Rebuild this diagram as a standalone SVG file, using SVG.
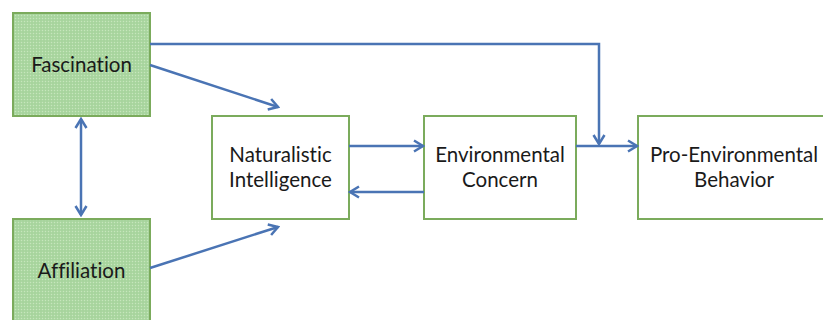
<svg xmlns="http://www.w3.org/2000/svg" width="823" height="320" viewBox="0 0 823 320">
  <style>
    .box { fill: #ffffff; stroke: #7bab5c; stroke-width: 2; }
    .shaded { fill: url(#dots); stroke: #7bab5c; stroke-width: 2; }
    .label { font-family: Lato, "Open Sans", "Liberation Sans", sans-serif; font-size: 20.5px; fill: #1a1a1a; text-anchor: middle; font-variant-ligatures: none; }
    .link { fill: none; stroke: #4a74b4; stroke-width: 2.5; }
  </style>
  <defs>
    <!-- fine stipple used in the shaded boxes -->
    <pattern id="dots" width="3" height="3" patternUnits="userSpaceOnUse">
      <rect width="3" height="3" fill="#acd7a2"/>
      <rect x="0" y="0" width="1" height="1" fill="#c6e6bc"/>
      <rect x="1.5" y="1.5" width="1" height="1" fill="#97cb8e"/>
    </pattern>
    <marker id="chev" viewBox="0 0 14 14" refX="12" refY="7" markerWidth="14" markerHeight="14" markerUnits="userSpaceOnUse" orient="auto-start-reverse">
      <path d="M3,1.5 L12,7 L3,12.5" fill="none" stroke="#4a74b4" stroke-width="2.5" stroke-linejoin="miter"/>
    </marker>
  </defs>

  <rect width="823" height="320" fill="#ffffff"/>

  <g id="fascination">
    <rect class="shaded" x="13" y="13" width="137" height="103"/>
    <text class="label" x="81.5" y="72">Fascination</text>
  </g>

  <g id="affiliation">
    <rect class="shaded" x="13" y="219" width="137" height="104"/>
    <text class="label" x="81.5" y="278">Affiliation</text>
  </g>

  <g id="naturalistic-intelligence">
    <rect class="box" x="212" y="116" width="137" height="103"/>
    <text class="label" x="280.5" y="162">Naturalistic</text>
    <text class="label" x="280.5" y="187">Intelligence</text>
  </g>

  <g id="environmental-concern">
    <rect class="box" x="424" y="116" width="152" height="103"/>
    <text class="label" x="500" y="162">Environmental</text>
    <text class="label" x="500" y="187">Concern</text>
  </g>

  <g id="pro-environmental-behavior">
    <rect class="box" x="638" y="116" width="192" height="103"/>
    <text class="label" x="734" y="162">Pro-Environmental</text>
    <text class="label" x="734" y="187">Behavior</text>
  </g>

  <g id="connectors">
    <path class="link" d="M150,44 H599 V144" marker-end="url(#chev)"/>
    <path class="link" d="M150,65 L278,107" marker-end="url(#chev)"/>
    <path class="link" d="M150,268 L278,227" marker-end="url(#chev)"/>
    <path class="link" d="M81,119 V215" marker-start="url(#chev)" marker-end="url(#chev)"/>
    <path class="link" d="M349,146 H423" marker-end="url(#chev)"/>
    <path class="link" d="M424,192 H350" marker-end="url(#chev)"/>
    <path class="link" d="M576,146 H637" marker-end="url(#chev)"/>
  </g>
</svg>
